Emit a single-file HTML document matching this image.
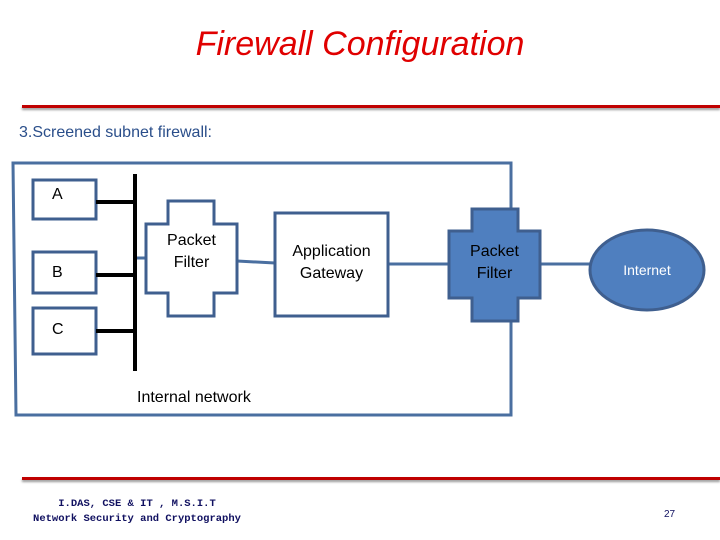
<!DOCTYPE html><html><head><style>
body{margin:0;width:720px;height:540px;background:#fff;overflow:hidden;position:relative;font-family:"Liberation Sans",sans-serif}
.t{position:absolute;white-space:nowrap}
</style></head><body>
<div class="t" style="left:0;width:720px;top:25px;text-align:center;font-family:'Liberation Sans',sans-serif;font-style:italic;font-size:34px;color:#e00000">Firewall Configuration</div>
<div style="position:absolute;left:22px;top:105px;width:698px;height:3px;background:#c00000;box-shadow:0 2px 2px #999"></div>
<div class="t" style="left:19px;top:124px;font-size:16px;color:#2a4e8a">3.Screened subnet firewall:</div>
<svg width="720" height="540" style="position:absolute;left:0;top:0">
<g stroke="#4a6fa0" stroke-width="3" fill="none">
<polyline points="511,209 511,163 13,163 16,415 511,415 511,321"/>
<line x1="135" y1="258" x2="146" y2="258"/>
<line x1="237" y1="261" x2="275" y2="263"/>
<line x1="389" y1="264" x2="449" y2="264"/>
<line x1="540" y1="264" x2="590" y2="264"/>
</g>
<g stroke="#3f5f8f" stroke-width="3" fill="#fff">
<rect x="33" y="180" width="63" height="39"/>
<rect x="33" y="252" width="63" height="41"/>
<rect x="33" y="308" width="63" height="46"/>
<polygon points="168,201 214,201 214,224 237,224 237,293 214,293 214,316 168,316 168,293 146,293 146,224 168,224"/>
<rect x="275" y="213" width="113" height="103"/>
<polygon fill="#4f7fbf" points="472,209 518,209 518,231 540,231 540,298 518,298 518,321 472,321 472,298 449,298 449,231 472,231"/>
<ellipse fill="#4f7fbf" cx="647" cy="270" rx="57" ry="40"/>
</g>
<g stroke="#000" stroke-width="4">
<line x1="135" y1="174" x2="135" y2="371"/>
<line x1="96" y1="202" x2="135" y2="202"/>
<line x1="96" y1="275" x2="135" y2="275"/>
<line x1="96" y1="331" x2="135" y2="331"/>
</g>
</svg>
<div class="t" style="left:52px;top:186px;font-size:16px">A</div>
<div class="t" style="left:52px;top:264px;font-size:16px">B</div>
<div class="t" style="left:52px;top:321px;font-size:16px">C</div>
<div class="t" style="left:146px;width:91px;top:230px;text-align:center;font-size:16px;line-height:22px">Packet<br>Filter</div>
<div class="t" style="left:275px;width:113px;top:241px;text-align:center;font-size:16px;line-height:22px">Application<br>Gateway</div>
<div class="t" style="left:449px;width:91px;top:241px;text-align:center;font-size:16px;line-height:22px">Packet<br>Filter</div>
<div class="t" style="left:590px;width:114px;top:262px;text-align:center;font-size:14px;color:#fff">Internet</div>
<div class="t" style="left:137px;top:389px;font-size:16px">Internal network</div>
<div style="position:absolute;left:22px;top:477px;width:698px;height:3px;background:#c00000;box-shadow:0 2px 2px #999"></div>
<div class="t" style="left:30px;top:497px;width:214px;text-align:center;font-family:'Liberation Mono',monospace;font-weight:bold;font-size:10.5px;line-height:15px;color:#101060">I.DAS, CSE &amp; IT , M.S.I.T<br>Network Security and Cryptography</div>
<div class="t" style="left:664px;top:509px;font-size:10px;color:#101060">27</div>
</body></html>
